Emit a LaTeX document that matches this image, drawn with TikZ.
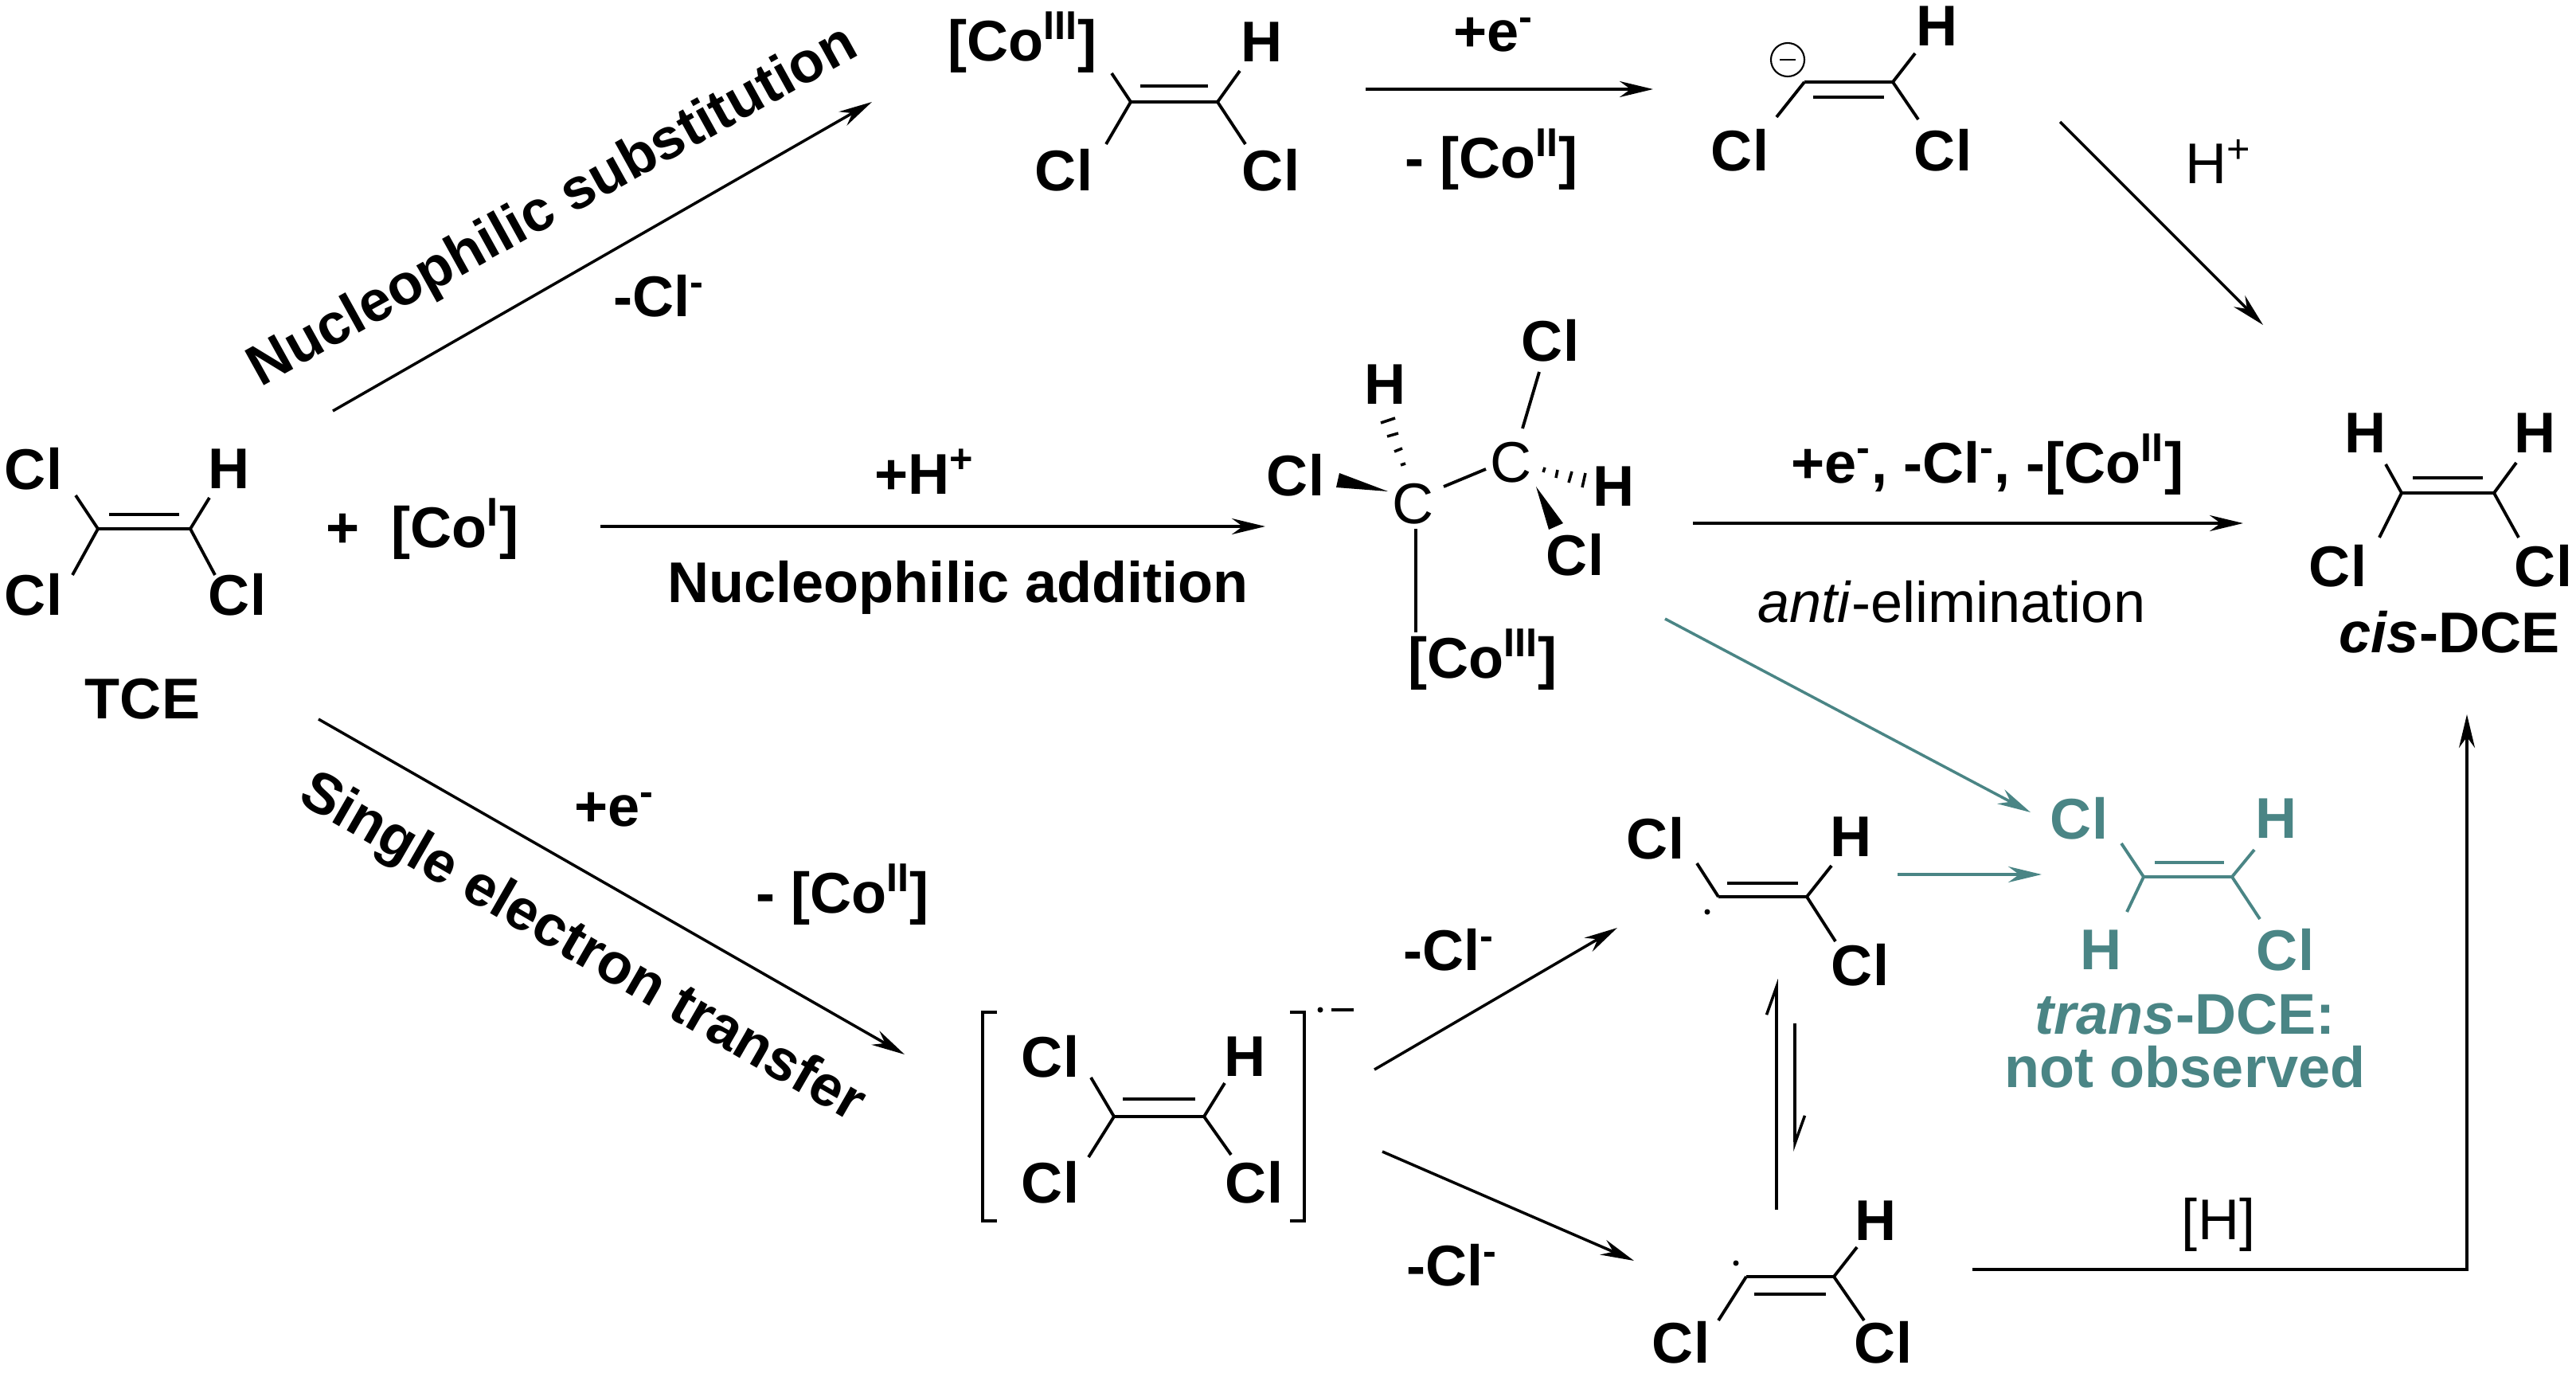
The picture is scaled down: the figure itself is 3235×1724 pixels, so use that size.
\documentclass[tikz,border=0pt]{standalone}
\usepackage{fontspec}
\setmainfont{Liberation Sans}
\usetikzlibrary{arrows.meta,calc}
\definecolor{tealc}{RGB}{74,133,133}
\begin{document}
\begin{tikzpicture}[x=0.01cm,y=-0.01cm,
  lbl/.style={inner sep=1pt,font=\bfseries\fontsize{20.5}{24}\selectfont},
  rg/.style={inner sep=1pt,font=\fontsize{20.5}{24}\selectfont},
  bond/.style={line width=1.1pt},
  arr/.style={line width=1pt,-{Stealth[length=0.42cm,width=0.2cm]}},
  tarr/.style={arr,draw=tealc}]
\useasboundingbox (0,0) rectangle (3235,1724);
\newcommand{\dbl}[5]{% c1 c2 y inner shift, inset
  \draw[bond] (#1) -- (#2);
  \draw[bond] ($(#1)+(#4,#3)$) -- ($(#2)+(-#4,#3)$);}
% ---------------- TCE
\coordinate (t1) at (123,664); \coordinate (t2) at (239,664);
\node[lbl] (tCla) at (42,589) {Cl}; \node[lbl] (tH) at (288,589) {H};
\node[lbl] (tClb) at (42,747) {Cl}; \node[lbl] (tClc) at (298,747) {Cl};
\dbl{t1}{t2}{-18}{14}{}
\draw[bond] (t1) -- (95,622); \draw[bond] (t1) -- (91,722);
\draw[bond] (t2) -- (263,625); \draw[bond] (t2) -- (270,722);
\node[lbl] (tce) at (179,878) {TCE};
\node[lbl,anchor=west] (coI) at (405,664) {+\ \ [Co\textsuperscript{I}]};
% ---------------- top Co-vinyl
\coordinate (a1) at (1420,128); \coordinate (a2) at (1529,128);
\node[lbl] (aCo) at (1284,53) {[Co\textsuperscript{III}]}; \node[lbl] (aH) at (1585,53) {H};
\node[lbl] (aCl1) at (1336,214) {Cl}; \node[lbl] (aCl2) at (1596,214) {Cl};
\dbl{a1}{a2}{-20}{12}{}
\draw[bond] (a1) -- (1396,92); \draw[bond] (a1) -- (1389,181);
\draw[bond] (a2) -- (1557,89); \draw[bond] (a2) -- (1564,181);
% ---------------- anion
\coordinate (b1) at (2266,103); \coordinate (b2) at (2377,103);
\node[lbl] (bCl1) at (2185,189) {Cl}; \node[lbl] (bCl2) at (2440,189) {Cl};
\node[lbl] (bH) at (2433,33) {H};
\dbl{b1}{b2}{19}{11}{}
\draw[bond] (b1) -- (2231,147); \draw[bond] (b2) -- (2409,150); \draw[bond] (b2) -- (2405,67);
\node[draw,circle,line width=0.6pt,minimum size=0.42cm,inner sep=0pt] (minus) at (2245,75) {};
\draw[line width=0.8pt] (2235,75) -- (2255,75);
% ---------------- cis-DCE
\coordinate (c1) at (3016,619); \coordinate (c2) at (3132,619);
\node[lbl] (cH1) at (2971,544) {H}; \node[lbl] (cH2) at (3184,544) {H};
\node[lbl] (cCl1) at (2936,711) {Cl}; \node[lbl] (cCl2) at (3194,711) {Cl};
\dbl{c1}{c2}{-19}{14}{}
\draw[bond] (c1) -- (2996,583); \draw[bond] (c1) -- (2988,675);
\draw[bond] (c2) -- (3160,581); \draw[bond] (c2) -- (3163,675);
\node[lbl] (cis) at (3076,794) {\textit{cis}-DCE};
% ---------------- middle alkyl
\node[lbl] (mC1) at (1775,633) {\mdseries C};
\node[lbl] (mC2) at (1898,581) {\mdseries C};
\node[lbl] (mCl1) at (1627,597) {Cl}; \node[lbl] (mH1) at (1740,483) {H};
\node[lbl] (mCl2) at (1947,428) {Cl}; \node[lbl] (mH2) at (2027,611) {H};
\node[lbl] (mCl3) at (1978,697) {Cl}; \node[lbl] (mCo) at (1862,828) {[Co\textsuperscript{III}]};
\fill (1682,594) -- (1678,612) -- (1743,617) -- cycle;
\fill (1929,611) -- (1963,657) -- (1945,665) -- cycle;
\draw[line width=1pt] (1759,584)--(1765,582) (1751,567)--(1761,563) (1742,548)--(1756,544) (1734,531)--(1752,525);
\draw[line width=1pt] (1940,587)--(1938,593) (1956,590)--(1954,600) (1974,592)--(1970,606) (1991,594)--(1987,612);
\draw[bond] (1813,611) -- (1866,589);
\draw[bond] (1912,538) -- (1933,467);
\draw[bond] (1778,664) -- (1778,794);
% ---------------- bracketed radical anion
\coordinate (d1) at (1399,1402); \coordinate (d2) at (1512,1402);
\node[lbl] (dCl1) at (1319,1327) {Cl}; \node[lbl] (dH) at (1564,1327) {H};
\node[lbl] (dCl2) at (1319,1485) {Cl}; \node[lbl] (dCl3) at (1575,1485) {Cl};
\dbl{d1}{d2}{-22}{11}{}
\draw[bond] (d1) -- (1370,1353); \draw[bond] (d1) -- (1367,1453);
\draw[bond] (d2) -- (1538,1360); \draw[bond] (d2) -- (1546,1450);
\draw[line width=1pt] (1252,1271) -- (1234,1271) -- (1234,1533) -- (1252,1533);
\draw[line width=1pt] (1620,1271) -- (1638,1271) -- (1638,1533) -- (1620,1533);
\fill (1658,1268) circle (3.5);
\draw[line width=1pt] (1672,1268) -- (1700,1268);
% ---------------- top radical
\coordinate (e1) at (2158,1126); \coordinate (e2) at (2269,1126);
\node[lbl] (eCl1) at (2079,1053) {Cl}; \node[lbl] (eH) at (2325,1051) {H};
\node[lbl] (eCl2) at (2336,1212) {Cl};
\dbl{e1}{e2}{-17}{11}{}
\draw[bond] (e1) -- (2131,1084); \draw[bond] (e2) -- (2300,1087); \draw[bond] (e2) -- (2305,1182);
\fill (2144,1145) circle (3.5);
% ---------------- bottom radical
\coordinate (f1) at (2193,1603); \coordinate (f2) at (2303,1603);
\node[lbl] (fH) at (2356,1533) {H};
\node[lbl] (fCl1) at (2111,1686) {Cl}; \node[lbl] (fCl2) at (2365,1686) {Cl};
\dbl{f1}{f2}{22}{10}{}
\draw[bond] (f1) -- (2158,1658); \draw[bond] (f2) -- (2332,1566); \draw[bond] (f2) -- (2341,1658);
\fill (2180,1586) circle (3.5);
% ---------------- trans-DCE
\coordinate (g1) at (2692,1101); \coordinate (g2) at (2803,1101);
\node[lbl,text=tealc] (gCl1) at (2611,1028) {Cl}; \node[lbl,text=tealc] (gH1) at (2859,1028) {H};
\node[lbl,text=tealc] (gH2) at (2639,1193) {H}; \node[lbl,text=tealc] (gCl2) at (2870,1193) {Cl};
\draw[bond,tealc] (g1) -- (g2); \draw[bond,tealc] (2706,1083) -- (2793,1083);
\draw[bond,tealc] (g1) -- (2664,1059); \draw[bond,tealc] (g1) -- (2671,1145);
\draw[bond,tealc] (g2) -- (2831,1067); \draw[bond,tealc] (g2) -- (2838,1154);
\node[lbl,text=tealc] (trans) at (2744,1274) {\textit{trans}-DCE:};
\node[lbl,text=tealc] (notobs) at (2744,1340) {not observed};
% ---------------- arrows
\coordinate (ns0) at (418,516); \coordinate (ns1) at (1095,128);
\draw[arr] (ns0) -- (ns1);
\node[lbl,rotate=29] (nsl) at (695,261) {Nucleophilic substitution};
\node[lbl] (nscl) at (828,372) {-Cl\textsuperscript{-}};
\coordinate (p0) at (1715,112); \coordinate (p1) at (2076,112);
\draw[arr] (p0) -- (p1);
\node[lbl] (pe) at (1876,44) {+e\textsuperscript{-}};
\node[lbl] (pco) at (1873,200) {- [Co\textsuperscript{II}]};
\coordinate (q0) at (2587,153); \coordinate (q1) at (2842,408);
\draw[arr] (q0) -- (q1);
\node[rg] (qh) at (2786,203) {H\textsuperscript{+}};
\coordinate (r0) at (754,661); \coordinate (r1) at (1589,661);
\draw[arr] (r0) -- (r1);
\node[lbl] (rh) at (1161,592) {+H\textsuperscript{+}};
\node[lbl] (ra) at (1203,738) {Nucleophilic addition};
\coordinate (s0) at (2126,657); \coordinate (s1) at (2817,657);
\draw[arr] (s0) -- (s1);
\node[lbl] (sl) at (2496,583) {+e\textsuperscript{-}, -Cl\textsuperscript{-}, -[Co\textsuperscript{II}]};
\node[rg] (sa) at (2451,756) {\textit{anti}-elimination};
\coordinate (u0) at (2091,777); \coordinate (u1) at (2550,1020);
\draw[tarr] (u0) -- (u1);
\coordinate (v0) at (2383,1098); \coordinate (v1) at (2564,1098);
\draw[tarr] (v0) -- (v1);
\coordinate (w0) at (400,903); \coordinate (w1) at (1136,1324);
\draw[arr] (w0) -- (w1);
\node[lbl,rotate=-30] (wl) at (730,1192) {Single electron transfer};
\node[lbl] (we) at (772,1017) {+e\textsuperscript{-}};
\node[lbl] (wco) at (1058,1123) {- [Co\textsuperscript{II}]};
\coordinate (x0) at (1726,1343); \coordinate (x1) at (2031,1165);
\draw[arr] (x0) -- (x1);
\node[lbl] (xl) at (1820,1193) {-Cl\textsuperscript{-}};
\coordinate (y0) at (1736,1446); \coordinate (y1) at (2052,1583);
\draw[arr] (y0) -- (y1);
\node[lbl] (yl) at (1824,1589) {-Cl\textsuperscript{-}};
\coordinate (eq0) at (2231,1519); \coordinate (eq1) at (2231,1229);
\draw[line width=1pt,-{Straight Barb[left,length=0.35cm,width=0.25cm]}] (eq0) -- (eq1);
\coordinate (eq2) at (2254,1285); \coordinate (eq3) at (2254,1446);
\draw[line width=1pt,-{Straight Barb[left,length=0.35cm,width=0.25cm]}] (eq2) -- (eq3);
\coordinate (h0) at (2477,1594); \coordinate (h1) at (3098,1594); \coordinate (h2) at (3098,897);
\draw[arr] (h0) -- (h1) -- (h2);
\node[rg] (hl) at (2786,1538) {[H]};
\end{tikzpicture}
\end{document}
